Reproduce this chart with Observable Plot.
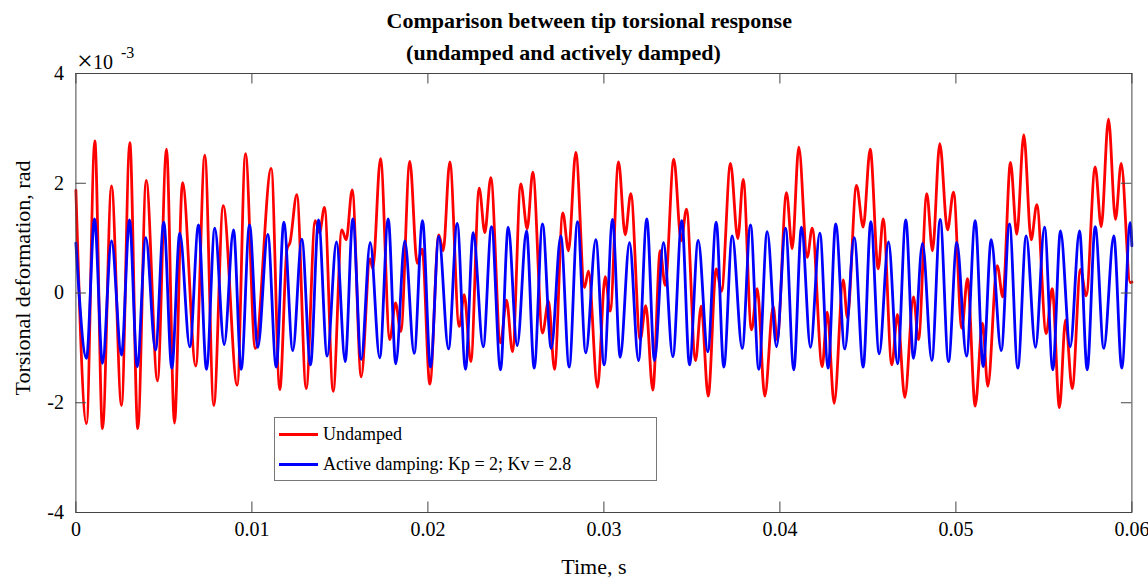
<!DOCTYPE html>
<html><head><meta charset="utf-8">
<script src="https://cdn.jsdelivr.net/npm/d3@7"></script>
<script src="https://cdn.jsdelivr.net/npm/@observablehq/plot@0.6"></script>
<style>
html,body{margin:0;padding:0;background:#fff;}
#wrap{position:relative;width:1148px;height:578px;font-family:"Liberation Serif","Times New Roman",serif;}
#legend{position:absolute;left:274px;top:417px;width:381px;height:62px;border:1px solid #777;background:#fff;font-size:18px;color:#000;}
.row{position:absolute;left:0;height:20px;display:flex;align-items:center;white-space:nowrap;}
.sw{width:39px;height:0;border-top:3px solid;margin-left:4px;margin-right:5px;}
</style></head>
<body><div id="wrap"></div>
<script>
// Values (y in units of 1e-3 rad, t in seconds)
const undampedT = [0, 0.000602, 0.001074, 0.001511, 0.002023, 0.002591, 0.003063, 0.003517, 0.003994, 0.004636,
 0.005148, 0.005602, 0.006057, 0.006813, 0.007324, 0.007835, 0.008369, 0.009165, 0.009636, 0.010188,
 0.011097, 0.011585, 0.011994, 0.012165, 0.012551, 0.013085, 0.013597, 0.013841, 0.014125, 0.014619,
 0.015108, 0.015358, 0.015699, 0.016210, 0.016710, 0.016869, 0.017307, 0.017835, 0.018159, 0.018460,
 0.018972, 0.019392, 0.019676, 0.020108, 0.020619, 0.020869, 0.021244, 0.021778, 0.022063, 0.022438,
 0.022915, 0.023233, 0.023574, 0.024125, 0.024466, 0.024807, 0.025278, 0.025642, 0.025960, 0.026511,
 0.026852, 0.027193, 0.027665, 0.027989, 0.028403, 0.028898, 0.029125, 0.029636, 0.030074, 0.030358,
 0.030830, 0.031210, 0.031528, 0.032063, 0.032381, 0.032778, 0.033199, 0.033483, 0.033972, 0.034392,
 0.034693, 0.035205, 0.035528, 0.035926, 0.036381, 0.036682, 0.037193, 0.037608, 0.037915, 0.038386,
 0.038710, 0.039142, 0.039619, 0.039847, 0.040375, 0.040699, 0.041074, 0.041551, 0.041835, 0.042403,
 0.042688, 0.043085, 0.043597, 0.043835, 0.044352, 0.044733, 0.045131, 0.045585, 0.045869, 0.046358,
 0.046682, 0.047097, 0.047591, 0.047875, 0.048347, 0.048670, 0.049085, 0.049523, 0.049864, 0.050335,
 0.050659, 0.051097, 0.051511, 0.051813, 0.052347, 0.052665, 0.053102, 0.053460, 0.053858, 0.054278,
 0.054597, 0.055131, 0.055472, 0.055886, 0.056227, 0.056608, 0.057080, 0.057403, 0.057915, 0.058256,
 0.058670, 0.059068, 0.059392, 0.059903, 0.06];
const undampedV = [1.87, -2.38, 2.77, -2.47, 1.95, -2.05, 2.74, -2.47, 2.05, -1.6,
 2.62, -2.37, 2.01, -1.33, 2.51, -2.05, 1.59, -1.68, 2.54, -1.01,
 2.27, -1.76, 0.8, 0.92, 1.79, -1.74, 1.32, 1.1, 1.56, -1.79,
 1.15, 0.97, 1.88, -1.53, 0.62, 0.45, 2.45, -0.85, -0.18, -0.7,
 2.4, 0.54, 0.8, -1.66, 1.06, 0.77, 2.39, -0.61, -0.03, -1.25,
 1.91, 1.1, 2.1, -0.91, -0.13, -1.07, 1.99, 1.17, 2.2, -0.73,
 -0.15, -1.39, 1.46, 0.77, 2.56, 0.1, 0.4, -1.72, 0.3, -0.33,
 2.39, 1.06, 1.81, -0.85, -0.23, -1.77, 0.77, 0.14, 2.44, 0.95,
 1.53, -1.23, -0.24, -1.88, 0.44, 0.03, 2.36, 0.99, 2.07, -0.67,
 0.08, -1.88, -0.25, -0.85, 1.83, 0.81, 2.66, 0.65, 1.18, -1.34,
 -0.35, -2.01, 0.24, -0.45, 1.96, 1.2, 2.62, 0.44, 1.35, -1.31,
 -0.39, -1.9, -0.07, -0.85, 1.81, 0.77, 2.72, 1.15, 1.84, -0.64,
 0.26, -2.06, -0.55, -1.7, 0.5, -0.07, 2.38, 1.07, 2.88, 0.97,
 1.61, -0.74, 0.08, -2.09, -0.49, -1.74, 0.43, -0.05, 2.3, 1.21,
 3.17, 1.34, 2.36, 0.19, 0.2];
const dampedT = [0, 0.000602, 0.001057, 0.001511, 0.002023, 0.002591, 0.003045, 0.003483, 0.003972, 0.004523,
 0.004994, 0.005449, 0.005903, 0.006472, 0.006966, 0.007420, 0.007892, 0.008426, 0.008955, 0.009392,
 0.009864, 0.010335, 0.010903, 0.011381, 0.011813, 0.012324, 0.012835, 0.013330, 0.013784, 0.014278,
 0.014807, 0.015301, 0.015733, 0.016210, 0.016722, 0.017261, 0.017744, 0.018176, 0.018688, 0.019222,
 0.019693, 0.020148, 0.020619, 0.021170, 0.021665, 0.022136, 0.022574, 0.023142, 0.023614, 0.024125,
 0.024563, 0.025074, 0.025602, 0.026040, 0.026511, 0.027006, 0.027551, 0.028028, 0.028500, 0.028972,
 0.029540, 0.030017, 0.030489, 0.030926, 0.031455, 0.031966, 0.032438, 0.032875, 0.033386, 0.033915,
 0.034426, 0.034864, 0.035358, 0.035903, 0.036381, 0.036813, 0.037290, 0.037858, 0.038330, 0.038801,
 0.039278, 0.039807, 0.040318, 0.040790, 0.041227, 0.041739, 0.042267, 0.042744, 0.043170, 0.043688,
 0.044222, 0.044733, 0.045165, 0.045642, 0.046170, 0.046682, 0.047153, 0.047591, 0.048102, 0.048631,
 0.049108, 0.049580, 0.050051, 0.050602, 0.051097, 0.051551, 0.052006, 0.052574, 0.053045, 0.053517,
 0.053994, 0.054523, 0.055034, 0.055506, 0.055943, 0.056494, 0.057023, 0.057460, 0.057915, 0.058403,
 0.058972, 0.059426, 0.059903, 0.06];
const dampedV = [0.91, -1.19, 1.35, -1.28, 0.95, -1.13, 1.33, -1.34, 1.01, -1.04,
 1.29, -1.37, 1.09, -0.98, 1.24, -1.39, 1.18, -0.94, 1.15, -1.39,
 1.24, -0.99, 1.07, -1.35, 1.29, -1.05, 0.98, -1.31, 1.33, -1.15,
 0.93, -1.25, 1.35, -1.21, 0.92, -1.18, 1.35, -1.29, 0.95, -1.1,
 1.32, -1.35, 1.03, -1.02, 1.27, -1.39, 1.1, -0.98, 1.21, -1.4,
 1.2, -0.96, 1.13, -1.37, 1.26, -1.01, 1.04, -1.35, 1.3, -1.09,
 0.97, -1.31, 1.34, -1.17, 0.92, -1.23, 1.35, -1.23, 0.92, -1.16,
 1.32, -1.31, 0.96, -1.07, 1.29, -1.35, 1.04, -1.01, 1.24, -1.39,
 1.12, -0.98, 1.18, -1.4, 1.2, -0.99, 1.09, -1.37, 1.26, -1.02,
 1.01, -1.35, 1.3, -1.11, 0.93, -1.29, 1.33, -1.19, 0.91, -1.23,
 1.34, -1.25, 0.92, -1.15, 1.32, -1.34, 0.97, -1.05, 1.26, -1.37,
 1.04, -0.99, 1.2, -1.4, 1.13, -0.98, 1.13, -1.4, 1.21, -1.01,
 1.04, -1.37, 1.28, 0.86];

const xTicks = [0, 0.01, 0.02, 0.03, 0.04, 0.05, 0.06];
const xTickLabels = ["0", "0.01", "0.02", "0.03", "0.04", "0.05", "0.06"];
const yTicks = [-4, -2, 0, 2, 4];
const yTickLabels = ["-4", "-2", "0", "2", "4"];
const seriesNames = ["Undamped", "Active damping: Kp = 2; Kv = 2.8"];
const seriesColors = ["#ff0000", "#0000ff"];
const titleLines = ["Comparison between tip torsional response", "(undamped and actively damped)"];
const xLabel = "Time, s";
const yLabel = "Torsional deformation, rad";
const expTimes = "\u00d7", expBase = "10", expPower = "-3";

const undamped = undampedT.map((t, i) => ({t, v: undampedV[i]}));
const damped = dampedT.map((t, i) => ({t, v: dampedV[i]}));

const W = 1148, H = 578, mL = 75.4, mR = 16.6, mT = 73, mB = 66;
const plotW = W - mL - mR, plotH = H - mT - mB, tickLen = 10.5;
const axisColor = "#444";

const chart = Plot.plot({
  width: W, height: H,
  marginLeft: mL, marginRight: mR, marginTop: mT, marginBottom: mB,
  style: {fontFamily: '"Liberation Serif", "Times New Roman", serif', fontSize: "20px", color: "#000", background: "#fff"},
  x: {domain: [0, 0.06]},
  y: {domain: [-4, 4]},
  marks: [
    Plot.line(undamped, {x: "t", y: "v", stroke: seriesColors[0], strokeWidth: 2.8, curve: "monotone-x"}),
    Plot.line(damped, {x: "t", y: "v", stroke: seriesColors[1], strokeWidth: 2.8, curve: "monotone-x"}),
    Plot.frame({stroke: axisColor, strokeWidth: 1}),
    Plot.ruleX(xTicks, {x: d => d, insetTop: plotH - tickLen, stroke: axisColor}),
    Plot.ruleX(xTicks, {x: d => d, insetBottom: plotH - tickLen, stroke: axisColor}),
    Plot.ruleY(yTicks, {y: d => d, insetRight: plotW - tickLen, stroke: axisColor}),
    Plot.ruleY(yTicks, {y: d => d, insetLeft: plotW - tickLen, stroke: axisColor}),
    Plot.axisX({ticks: xTicks, tickFormat: d => xTickLabels[xTicks.indexOf(d)], tickSize: 0, tickPadding: 9, label: null, fontSize: 20}),
    Plot.axisY({ticks: yTicks, tickFormat: d => yTickLabels[yTicks.indexOf(d)], tickSize: 0, tickPadding: 12, label: null, fontSize: 20}),
    Plot.text([xLabel], {frameAnchor: "bottom", textAnchor: "middle", lineAnchor: "middle", dx: -10, dy: 54, fontSize: 22}),
    Plot.text([yLabel], {frameAnchor: "left", textAnchor: "middle", lineAnchor: "middle", rotate: -90, dx: -53, dy: -15, fontSize: 22}),
    Plot.text([titleLines[0]], {frameAnchor: "top", textAnchor: "middle", lineAnchor: "middle", dx: -14.7, dy: -52.5, fontSize: 22, fontWeight: "bold"}),
    Plot.text([titleLines[1]], {frameAnchor: "top", textAnchor: "middle", lineAnchor: "middle", dx: -40.4, dy: -20.5, fontSize: 22, fontWeight: "bold"}),
    Plot.text([expTimes], {frameAnchor: "top-left", textAnchor: "start", lineAnchor: "middle", dx: 1, dy: -12, fontSize: 28}),
    Plot.text([expBase], {frameAnchor: "top-left", textAnchor: "start", lineAnchor: "middle", dx: 17, dy: -11, fontSize: 20}),
    Plot.text([expPower], {frameAnchor: "top-left", textAnchor: "start", lineAnchor: "middle", dx: 45, dy: -21, fontSize: 16})
  ]
});

const wrap = document.getElementById("wrap");
wrap.appendChild(chart);

const legend = document.createElement("div");
legend.id = "legend";
seriesNames.forEach((name, i) => {
  const row = document.createElement("div");
  row.className = "row";
  row.style.top = (6 + 30 * i) + "px";
  const sw = document.createElement("span");
  sw.className = "sw";
  sw.style.borderTopColor = seriesColors[i];
  const label = document.createElement("span");
  label.textContent = name;
  row.appendChild(sw);
  row.appendChild(label);
  legend.appendChild(row);
});
wrap.appendChild(legend);
</script></body></html>
